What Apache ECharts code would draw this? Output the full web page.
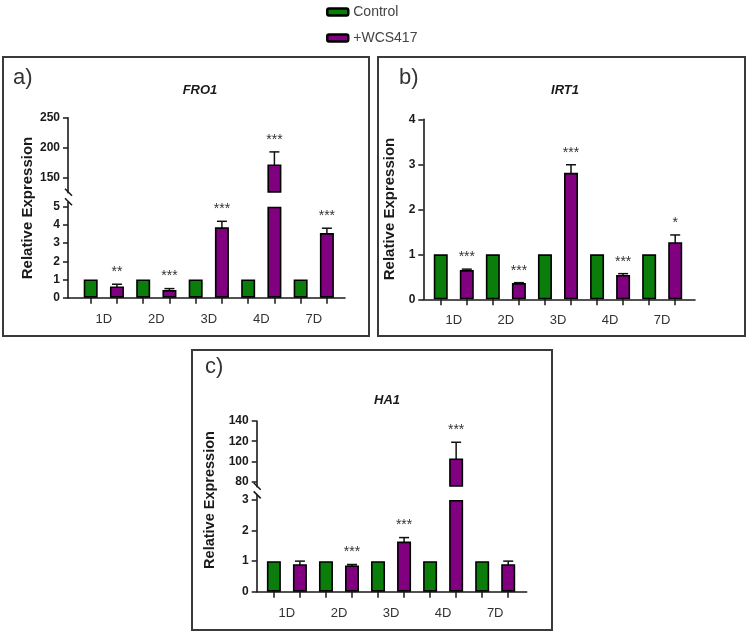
<!DOCTYPE html>
<html><head><meta charset="utf-8">
<script src="https://cdn.jsdelivr.net/npm/echarts@6/dist/echarts.min.js"></script>
<style>html,body{margin:0;padding:0;background:#fff}#c{width:749px;height:635px}</style>
</head><body><div id="c"></div>
<script>
// ---------------- DATA ----------------
const categories = ['1D', '2D', '3D', '4D', '7D'];
const seriesNames = ['Control', '+WCS417'];
const panelTitles = ['FRO1', 'IRT1', 'HA1'];
const panelLetters = ['a)', 'b)', 'c)'];
const yAxisTitle = 'Relative Expression';

// FRO1
const fro1Control = [1, 1, 1, 1, 1];
const fro1Treated = [0.62, 0.42, 3.87, 172, 3.55];
const fro1TreatedErr = [0.12, 0.08, 0.33, 21, 0.27];
const fro1Stars = ['**', '***', '***', '***', '***'];
const fro1TicksUpper = [150, 200, 250];
const fro1TicksLower = [0, 1, 2, 3, 4, 5];

// IRT1
const irt1Control = [1, 1, 1, 1, 1];
const irt1Treated = [0.65, 0.36, 2.81, 0.54, 1.27];
const irt1TreatedErr = [0.02, 0.01, 0.18, 0.03, 0.16];
const irt1Stars = ['***', '***', '***', '***', '*'];
const irt1Ticks = [0, 1, 2, 3, 4];

// HA1
const ha1Control = [1, 1, 1, 1, 1];
const ha1Treated = [0.9, 0.86, 1.64, 103, 0.9];
const ha1TreatedErr = [0.1, 0.03, 0.13, 16, 0.1];
const ha1Stars = ['', '***', '***', '***', ''];
const ha1TicksUpper = [80, 100, 120, 140];
const ha1TicksLower = [0, 1, 2, 3];

// ---------------- STYLE / LAYOUT ----------------
const FONT = '"Liberation Sans", Arial, Helvetica, sans-serif';
const GREEN = '#0b7d0b';
const PURPLE = '#800080';
const AXIS = '#1a1a1a';

const panels = [
  { control: fro1Control, treated: fro1Treated, err: fro1TreatedErr, stars: fro1Stars,
    box: [3, 57, 366, 279], letter: [13, 78], title: [200, 90], yname: [28, 208],
    left: 68, width: 277, xMin: -0.865, xMax: 9.69,
    lower: { top: 202.2, height: 95.5, min: 0, max: 5.25, ticks: fro1TicksLower }, breakAt: 5,
    upper: { top: 117.7, height: 75, min: 125, max: 250, ticks: fro1TicksUpper } },
  { control: irt1Control, treated: irt1Treated, err: irt1TreatedErr, stars: irt1Stars,
    box: [378, 57, 367, 279], letter: [399, 78], title: [565, 90], yname: [390, 209],
    left: 423.3, width: 271.7, xMin: -0.67, xMax: 9.76,
    lower: { top: 119.3, height: 180, min: 0, max: 4, ticks: irt1Ticks }, breakAt: null,
    upper: null },
  { control: ha1Control, treated: ha1Treated, err: ha1TreatedErr, stars: ha1Stars,
    box: [192, 350, 360, 280], letter: [205, 367], title: [387, 400], yname: [210, 500],
    left: 256.7, width: 270, xMin: -0.66, xMax: 9.71,
    lower: { top: 495.4, height: 96.3, min: 0, max: 3.15, ticks: ha1TicksLower }, breakAt: 3,
    upper: { top: 421, height: 65.8, min: 75, max: 140, ticks: ha1TicksUpper } }
];

const grids = [], xAxes = [], yAxes = [], series = [], graphics = [];
const xTickValues = categories.flatMap((c, i) => [2 * i, 2 * i + 1]);
const xLabelValues = categories.map((c, i) => 2 * i + 0.5);

function addGrid(p, g, isLower) {
  const idx = grids.length;
  grids.push({ left: p.left, top: g.top, width: p.width, height: g.height, containLabel: false, outerBoundsMode: 'none' });
  xAxes.push({
    gridIndex: idx, type: 'value', min: p.xMin, max: p.xMax, show: isLower,
    axisLine: { show: true, onZero: false, lineStyle: { color: AXIS, width: 1.6 } },
    axisTick: { show: true, length: 6, lineStyle: { color: AXIS, width: 1.5 }, customValues: xTickValues },
    axisLabel: { show: true, customValues: xLabelValues, margin: 15,
      formatter: v => categories[Math.round((v - 0.5) / 2)] || '',
      fontFamily: FONT, fontSize: 13, color: '#333' },
    splitLine: { show: false }
  });
  yAxes.push({
    gridIndex: idx, type: 'value', min: g.min, max: g.max, startValue: g.min,
    axisLine: { show: true, onZero: false, lineStyle: { color: AXIS, width: 1.6 } },
    axisTick: { show: true, length: 5, lineStyle: { color: AXIS, width: 1.5 }, customValues: g.ticks },
    axisLabel: { customValues: g.ticks, margin: 8, fontFamily: FONT, fontSize: 12, fontWeight: 'bold', color: '#1a1a1a' },
    splitLine: { show: false }
  });
  return idx;
}

function barSeries(name, color, idx, data) {
  return {
    type: 'bar', name, xAxisIndex: idx, yAxisIndex: idx, data,
    barWidth: 14, barGap: '-100%',
    itemStyle: { color, borderColor: '#000', borderWidth: 1.6 },
    emphasis: { disabled: true }, silent: true, animation: false
  };
}

function errSeries(idx, items) {
  return {
    type: 'custom', xAxisIndex: idx, yAxisIndex: idx, clip: false, silent: true, animation: false,
    data: items.map(it => [it.x, it.v, it.e]),
    renderItem: (params, api) => {
      const it = items[params.dataIndex];
      const top = api.coord([it.x, it.v + it.e]);
      const bot = api.coord([it.x, it.v - it.e]);
      const children = [];
      const st = { stroke: '#111', lineWidth: 1.5 };
      if (it.e > 0) {
        children.push({ type: 'line', shape: { x1: top[0], y1: top[1], x2: bot[0], y2: bot[1] }, style: st });
        children.push({ type: 'line', shape: { x1: top[0] - 5, y1: top[1], x2: top[0] + 5, y2: top[1] }, style: st });
        children.push({ type: 'line', shape: { x1: bot[0] - 5, y1: bot[1], x2: bot[0] + 5, y2: bot[1] }, style: st });
      }
      if (it.star) {
        children.push({ type: 'text', style: { text: it.star, x: top[0], y: top[1] - 5, align: 'center', verticalAlign: 'bottom',
          font: '14px ' + FONT, fill: '#333' } });
      }
      return { type: 'group', children };
    }
  };
}

panels.forEach((p, pi) => {
  const brk = p.breakAt;
  const li = addGrid(p, p.lower, true);
  series.push(barSeries(seriesNames[0], GREEN, li, p.control.map((v, i) => [2 * i, v])));
  series.push(barSeries(seriesNames[1], PURPLE, li, p.treated.map((v, i) => [2 * i + 1, brk == null ? v : Math.min(v, brk)])));
  const lowItems = [], upItems = [];
  p.treated.forEach((v, i) => {
    const it = { x: 2 * i + 1, v, e: p.err[i], star: p.stars[i] };
    if (brk != null && v > brk) upItems.push(it); else lowItems.push(it);
  });
  series.push(errSeries(li, lowItems));
  if (p.upper) {
    const ui = addGrid(p, p.upper, false);
    series.push(barSeries(seriesNames[1], PURPLE, ui, upItems.map(it => [it.x, it.v])));
    series.push(errSeries(ui, upItems));
    // axis break marks
    const yb = p.upper.top + p.upper.height, yt = p.lower.top;
    [yb, yt].forEach(y => graphics.push({ type: 'line', silent: true,
      shape: { x1: p.left - 3, y1: y - 4, x2: p.left + 4, y2: y + 3 },
      style: { stroke: AXIS, lineWidth: 1.6 } }));
  }
  // panel frame
  graphics.push({ type: 'rect', silent: true, shape: { x: p.box[0], y: p.box[1], width: p.box[2], height: p.box[3] },
    style: { fill: 'none', stroke: '#3a3a3a', lineWidth: 2 } });
  graphics.push({ type: 'text', silent: true, style: { text: panelLetters[pi], x: p.letter[0], y: p.letter[1],
    verticalAlign: 'middle', font: '22px ' + FONT, fill: '#333' } });
  graphics.push({ type: 'text', silent: true, style: { text: panelTitles[pi], x: p.title[0], y: p.title[1],
    align: 'center', verticalAlign: 'middle', font: 'italic bold 13px ' + FONT, fill: '#1a1a1a' } });
  graphics.push({ type: 'text', silent: true, x: p.yname[0], y: p.yname[1], rotation: Math.PI / 2,
    style: { text: yAxisTitle, x: 0, y: 0, align: 'center', verticalAlign: 'middle',
      font: 'bold ' + (pi === 2 ? 14.5 : 15) + 'px ' + FONT, fill: '#1a1a1a' } });
});

const chart = echarts.init(document.getElementById('c'), null, { renderer: 'canvas' });
chart.setOption({
  animation: false,
  backgroundColor: '#fff',
  legend: {
    orient: 'vertical', left: 321, top: 0, itemWidth: 21, itemHeight: 7, itemGap: 12,
    icon: 'roundRect', selectedMode: false,
    textStyle: { fontFamily: FONT, fontSize: 14, color: '#444' },
    data: [
      { name: seriesNames[0], itemStyle: { color: GREEN, borderColor: '#000', borderWidth: 2.5 } },
      { name: seriesNames[1], itemStyle: { color: PURPLE, borderColor: '#000', borderWidth: 2.5 } }
    ]
  },
  grid: grids, xAxis: xAxes, yAxis: yAxes, series,
  graphic: graphics
});
</script></body></html>
